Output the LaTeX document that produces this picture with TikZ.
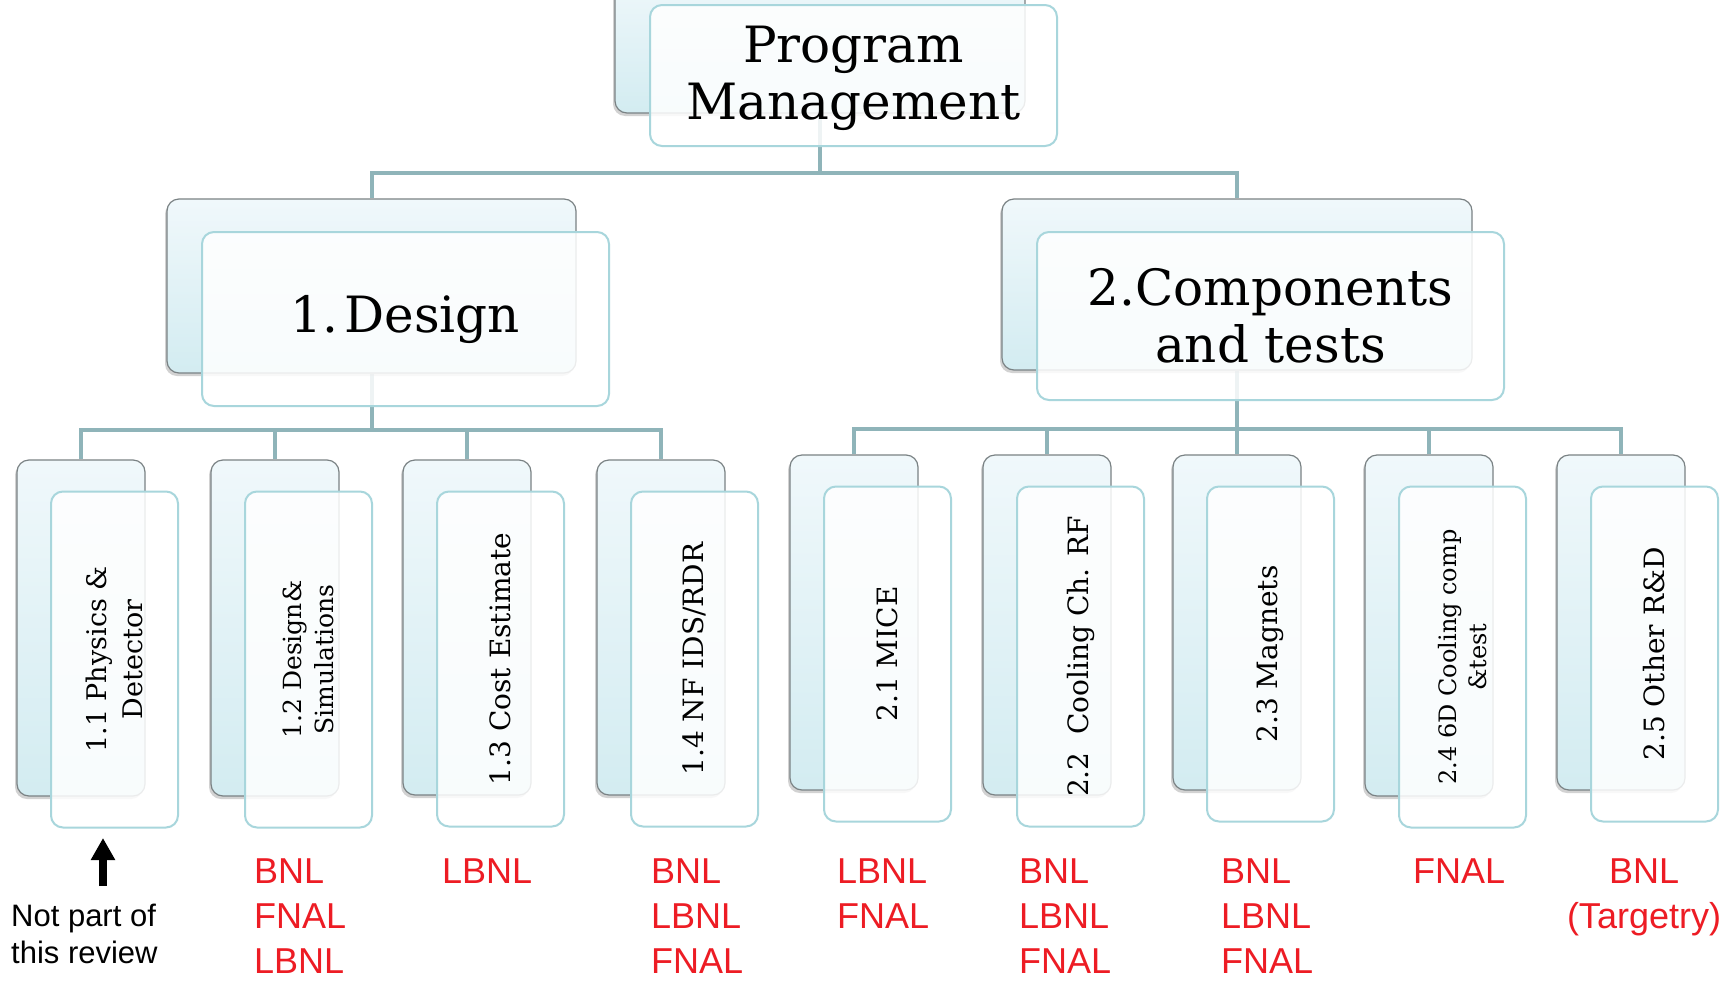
\documentclass[tikz,border=0pt]{standalone}
\usepackage{fontspec}
\setmainfont{DejaVu Serif}
\newfontfamily\labelfont{Liberation Sans}
\usetikzlibrary{shadows,arrows.meta,backgrounds}
\definecolor{conncol}{HTML}{8FB4B9}
\definecolor{backtop}{HTML}{F0F8FB}
\definecolor{backbot}{HTML}{D3ECF1}
\definecolor{backline}{HTML}{7A8284}
\definecolor{frontline}{HTML}{A8D6DC}
\definecolor{orgred}{HTML}{ED1C24}
\tikzset{
 backbox/.style={draw=backline, line width=1.2pt, rounded corners=12pt, top color=backtop, bottom color=backbot, inner sep=0pt,
   drop shadow={shadow xshift=-2pt, shadow yshift=-3pt, opacity=0.35}},
 frontbox/.style={draw=frontline, line width=2pt, rounded corners=12pt, fill=white, fill opacity=0.85, inner sep=0pt},
 headtext/.style={font=\fontsize{50}{57}\selectfont, align=center, inner sep=0pt},
 leaftext/.style={rotate=90, align=center, inner sep=0pt},
 conn/.style={draw=conncol, line width=4pt},
 orglabel/.style={text=orgred, font=\labelfont\fontsize{36}{45}\selectfont, inner sep=0pt, align=left, anchor=north west},
}
% name, left, top, bottom, fontsize, baselineskip, text
\newcommand\leafbox[7]{%
  \pgfmathsetmacro\lcx{#2+64}%
  \pgfmathsetmacro\lcy{(#3+#4)/2}%
  \pgfmathsetmacro\lht{#4-#3}%
  \node[backbox, minimum width=128pt, minimum height=\lht pt] (#1b) at (\lcx,\lcy) {};
  \pgfmathsetmacro\fcx{#2+34+63.5}%
  \pgfmathsetmacro\fcy{(#3+#4)/2+31.5}%
  \node[frontbox, minimum width=127pt, minimum height=\lht pt] (#1f) at (\fcx,\fcy) {};
  \node[leaftext, font=\fontsize{#5}{#6}\selectfont] (#1t) at (#1f.center) {#7};
}
\begin{document}
\begin{tikzpicture}[x=1pt,y=-1pt]
\useasboundingbox (0,0) rectangle (1729,980);
% top level
\node[backbox, minimum width=410pt, minimum height=141pt] (pmb) at (820,42.5) {};
\node[frontbox, minimum width=407pt, minimum height=141pt] (pmf) at (853.5,75.5) {};
\node[headtext, yshift=-3pt] (pmt) at (pmf.center) {Program\\Management};
% second level
\node[backbox, minimum width=409pt, minimum height=174pt] (desb) at (371.5,286) {};
\node[frontbox, minimum width=407pt, minimum height=174pt] (desf) at (405.5,319) {};
\node[headtext] (dest) at (desf.center) {1.\hspace{0.12em}Design};
\node[backbox, minimum width=470pt, minimum height=171pt] (compb) at (1237,284.5) {};
\node[frontbox, minimum width=467pt, minimum height=168pt] (compf) at (1270.5,316) {};
\node[headtext] (compt) at (compf.center) {2.Components\\and tests};
% leaves
\leafbox{l11}{17}{460}{796}{27}{36}{1.1 Physics \&\\Detector}
\leafbox{l12}{211}{460}{796}{25}{32}{1.2 Design\&\\Simulations}
\leafbox{l13}{403}{460}{795}{28}{34}{1.3 Cost Estimate}
\leafbox{l14}{597}{460}{795}{28}{34}{1.4 NF IDS/RDR}
\leafbox{l21}{790}{455}{790}{28}{34}{2.1 MICE}
\leafbox{l22}{983}{455}{795}{28}{34}{2.2\ \ Cooling Ch. RF}
\leafbox{l23}{1173}{455}{790}{28}{34}{2.3 Magnets}
\leafbox{l24}{1365}{455}{796}{24}{30}{2.4 6D Cooling comp\\\&test}
\leafbox{l25}{1557}{455}{790}{28}{34}{2.5 Other R\&D}
% connectors
\coordinate (busT) at (820,173);
\coordinate (busL) at (371.5,430);
\coordinate (busR) at (1237,429);
\begin{scope}[on background layer]
\fill[white] (0,0) rectangle (1729,980);
\draw[conn] (pmb.south) -- (busT);
\draw[conn] (desb.north) |- (busT) -| (compb.north);
\draw[conn] (desb.south) -- (busL);
\draw[conn] (l11b.north) |- (busL) -| (l14b.north);
\draw[conn] (l12b.north) -- (l12b.north |- busL);
\draw[conn] (l13b.north) -- (l13b.north |- busL);
\draw[conn] (compb.south) -- (busR);
\draw[conn] (l21b.north) |- (busR) -| (l25b.north);
\draw[conn] (l22b.north) -- (l22b.north |- busR);
\draw[conn] (l23b.north) -- (busR);
\draw[conn] (l24b.north) -- (l24b.north |- busR);
\end{scope}
% labels
\node[orglabel] (r12) at (254,859) {BNL\\FNAL\\LBNL};
\node[orglabel] (r13) at (442,859) {LBNL};
\node[orglabel] (r14) at (651,859) {BNL\\LBNL\\FNAL};
\node[orglabel] (r21) at (837,859) {LBNL\\FNAL};
\node[orglabel] (r22) at (1019,859) {BNL\\LBNL\\FNAL};
\node[orglabel] (r23) at (1221,859) {BNL\\LBNL\\FNAL};
\node[orglabel] (r24) at (1413,859) {FNAL};
\node[orglabel, anchor=north, align=center] (r25) at (1644,859) {BNL\\(Targetry)};
% note and arrow
\node[font=\labelfont\fontsize{31}{37}\selectfont, text=black, align=left, anchor=north west, inner sep=0pt] (note) at (11,904) {Not part of\\this review};
\coordinate (arrtail) at (103,886);
\coordinate (arrtip) at (103,838);
\draw[line width=8pt, -{Triangle[width=23pt,length=22pt]}] (arrtail) -- (arrtip);
\end{tikzpicture}
\end{document}
